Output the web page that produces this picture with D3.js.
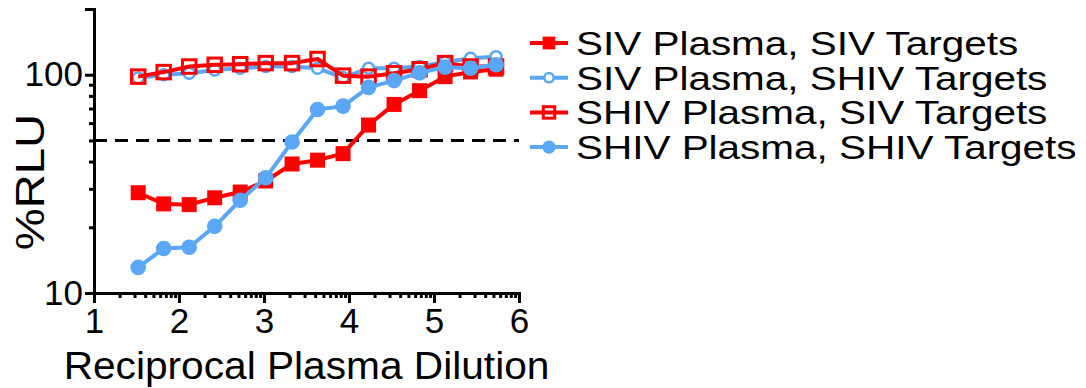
<!DOCTYPE html>
<html>
<head>
<meta charset="utf-8">
<script src="https://cdn.jsdelivr.net/npm/d3@7"></script>
<style>
  html, body { margin: 0; padding: 0; background: #fff; }
  svg { display: block; }
  text { font-family: "Liberation Sans", Arial, Helvetica, sans-serif; fill: #000; }
</style>
</head>
<body>
<svg id="chart" width="1086" height="388"></svg>
<script>
// log10 of reciprocal plasma dilution (two-fold series)
const dilution = [1.52, 1.82, 2.12, 2.42, 2.72, 3.02, 3.33, 3.63, 3.93, 4.23, 4.53, 4.83, 5.13, 5.43, 5.73];

// %RLU for each plasma / target combination
const sivPlasmaSivTargets   = [28.8, 25.6, 25.4, 27.3, 29.0, 32.6, 39.0, 40.6, 43.5, 58.8, 73.1, 84.5, 98, 103, 106];
const sivPlasmaShivTargets  = [96.5, 100, 101.6, 105, 107, 109, 109, 107, 97, 107, 107, 109, 114, 119, 121];
const shivPlasmaSivTargets  = [98, 102.8, 109, 111, 111.7, 113, 113, 118, 99, 98, 101.6, 105.9, 113, 109, 109];
const shivPlasmaShivTargets = [13.1, 16.0, 16.2, 20.2, 26.6, 33.7, 49.2, 69.3, 71.8, 87.5, 94, 102, 108.3, 107, 111];

const seriesNames = ["SIV Plasma, SIV Targets", "SIV Plasma, SHIV Targets",
                     "SHIV Plasma, SIV Targets", "SHIV Plasma, SHIV Targets"];

// axis ticks
const xTickLabels = [1, 2, 3, 4, 5, 6];
const yTickLabels = [10, 100];
const yMinorTicks = [20, 30, 40, 50, 60, 70, 80, 90, 200];
const cutoff = 50;

const RED = "#ff0000";
const BLUE = "#5aa7f5";

const series = [
  { name: seriesNames[0], values: sivPlasmaSivTargets,   color: RED,  shape: "square", filled: true  },
  { name: seriesNames[1], values: sivPlasmaShivTargets,  color: BLUE, shape: "circle", filled: false },
  { name: seriesNames[2], values: shivPlasmaSivTargets,  color: RED,  shape: "square", filled: false },
  { name: seriesNames[3], values: shivPlasmaShivTargets, color: BLUE, shape: "circle", filled: true  }
];

const svg = d3.select("#chart");
const margin = { left: 94, right: 567, top: 9, bottom: 95 };
const W = 1086, H = 388;

const x = d3.scaleLinear().domain([1, 6]).range([margin.left, W - margin.right]);
const y = d3.scaleLog().domain([10, 200]).range([H - margin.bottom, margin.top]);

// 50% cutoff line
svg.append("line")
  .attr("x1", x(1)).attr("x2", x(6))
  .attr("y1", y(cutoff)).attr("y2", y(cutoff))
  .attr("stroke", "#000").attr("stroke-width", 3)
  .attr("stroke-dasharray", "13,8");

// x axis with log-spaced minor ticks inside each unit
const xMinor = [];
for (let n = 1; n < 6; n++) for (let k = 2; k <= 9; k++) xMinor.push(n + Math.log10(k));

const xAxisG = svg.append("g").attr("transform", `translate(0,${y(10)})`);
xAxisG.call(d3.axisBottom(x).tickValues(xMinor).tickSize(5).tickFormat(""));
xAxisG.call(g => g.select(".domain").remove());
const xMajor = svg.append("g").attr("transform", `translate(0,${y(10)})`)
  .call(d3.axisBottom(x).tickValues(xTickLabels).tickSize(10).tickPadding(5).tickFormat(d3.format("d")));
[xAxisG, xMajor].forEach(g => g.selectAll("line").attr("stroke", "#000").attr("stroke-width", 3));
xMajor.select(".domain").attr("stroke", "#000").attr("stroke-width", 3);
xMajor.selectAll("text").attr("font-size", 35).attr("font-family", null).attr("fill", "#000");

// y axis
const yMinorG = svg.append("g").attr("transform", `translate(${x(1)},0)`)
  .call(d3.axisLeft(y).tickValues(yMinorTicks).tickSize(5).tickFormat(""));
yMinorG.select(".domain").remove();
const yMajor = svg.append("g").attr("transform", `translate(${x(1)},0)`)
  .call(d3.axisLeft(y).tickValues(yTickLabels).tickSize(9).tickPadding(2).tickFormat(d3.format("d")));
[yMinorG, yMajor].forEach(g => g.selectAll("line").attr("stroke", "#000").attr("stroke-width", 3));
yMajor.select(".domain").attr("stroke", "#000").attr("stroke-width", 3);
yMajor.selectAll("text").attr("font-size", 35).attr("font-family", null).attr("fill", "#000");

// axis titles
svg.append("text")
  .attr("transform", `translate(${(x(1) + x(6)) / 2},379) scale(1.07,1)`)
  .attr("text-anchor", "middle").attr("font-size", 38)
  .text("Reciprocal Plasma Dilution");
svg.append("text")
  .attr("transform", `translate(44,182) rotate(-90) scale(1.18,1)`)
  .attr("text-anchor", "middle").attr("font-size", 40)
  .text("%RLU");

// markers
function drawMarker(g, s, cx, cy, scale) {
  if (s.shape === "square") {
    const size = (s.filled ? 15 : 13.5) * scale;
    g.append("rect")
      .attr("x", cx - size / 2).attr("y", cy - size / 2)
      .attr("width", size).attr("height", size)
      .attr("fill", s.filled ? s.color : "none")
      .attr("stroke", s.color).attr("stroke-width", s.filled ? 0 : 3);
  } else {
    g.append("circle")
      .attr("cx", cx).attr("cy", cy)
      .attr("r", (s.filled ? 7.8 : 5.5) * scale)
      .attr("fill", s.filled ? s.color : "#fff")
      .attr("stroke", s.color).attr("stroke-width", s.filled ? 0 : 2.5);
  }
}

const line = d3.line().x(d => x(d[0])).y(d => y(d[1]));

series.forEach(s => {
  const pts = dilution.map((d, i) => [d, s.values[i]]);
  const g = svg.append("g");
  g.append("path").datum(pts).attr("d", line)
    .attr("fill", "none").attr("stroke", s.color).attr("stroke-width", 4)
    .attr("stroke-linejoin", "round");
  pts.forEach(p => drawMarker(g, s, x(p[0]), y(p[1]), 1));
});

// legend
const legend = svg.append("g");
series.forEach((s, i) => {
  const cy = 43 + i * 34.7;
  const g = legend.append("g");
  g.append("line").attr("x1", 530).attr("x2", 568).attr("y1", cy).attr("y2", cy)
    .attr("stroke", s.color).attr("stroke-width", 4);
  drawMarker(g, s, 549, cy, 0.85);
  g.append("text")
    .attr("transform", `translate(576,${cy + 12}) scale(1.19,1)`)
    .attr("font-size", 34)
    .text(s.name);
});
</script>
</body>
</html>
